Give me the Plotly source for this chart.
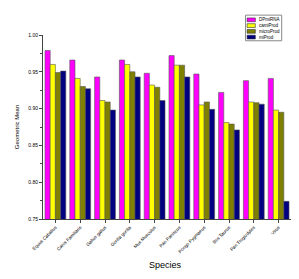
import plotly.graph_objects as go

species = ["Equus Caballus", "Canis Familiaris", "Gallus gallus", "Gorilla gorilla",
           "Mus Musculus", "Pan Paniscus", "Pongo Pygmaeus", "Bos Taurus",
           "Pan Troglodytes", "Virus"]
dpmirna = [0.979, 0.966, 0.943, 0.966, 0.948, 0.972, 0.947, 0.922, 0.938, 0.941]
camiprod = [0.960, 0.941, 0.911, 0.960, 0.932, 0.959, 0.905, 0.881, 0.909, 0.898]
microprod = [0.949, 0.930, 0.909, 0.950, 0.929, 0.959, 0.909, 0.879, 0.908, 0.895]
miprod = [0.951, 0.927, 0.898, 0.943, 0.911, 0.943, 0.899, 0.871, 0.906, 0.774]

series = [("DPmiRNA", dpmirna, "#ff00ff"),
          ("camiProd", camiprod, "#ffff00"),
          ("microProd", microprod, "#808000"),
          ("miProd", miprod, "#000080")]

fig = go.Figure()
for name, vals, col in series:
    fig.add_trace(go.Bar(x=species, y=vals, name=name, showlegend=False,
                         marker=dict(color=col, line=dict(color="#555555", width=0.6))))

# plot area in screen pixels: x 43..283, y 35..211 (page body has 8px margin)
L, T, W, H = 43, 35, 240, 176
def px(x):
    return (x - L) / W
def py(y):
    return (T + H - y) / H

shapes = [dict(type="rect", xref="paper", yref="paper",
               x0=px(239), x1=px(274), y0=py(40.5), y1=py(16),
               line=dict(color="#888888", width=1), fillcolor="white", layer="above")]
annotations = []
rows = [20.5, 26, 31.5, 37]
for (name, vals, col), ry in zip(series, rows):
    shapes.append(dict(type="rect", xref="paper", yref="paper",
                       x0=px(240.5), x1=px(248.5), y0=py(ry + 1.8), y1=py(ry - 1.8),
                       line=dict(color="#333333", width=0.6), fillcolor=col, layer="above"))
    annotations.append(dict(xref="paper", yref="paper", x=px(250), y=py(ry),
                            xanchor="left", yanchor="middle", showarrow=False,
                            text=name, font=dict(size=4.5, color="black")))
annotations.append(dict(xref="paper", yref="paper", x=px(162), y=py(255),
                        xanchor="center", yanchor="middle", showarrow=False,
                        text="Species", font=dict(size=9, color="black")))

font = "Liberation Sans, Arial, sans-serif"
fig.update_layout(
    width=291, height=271,
    margin=dict(l=35, r=8, t=27, b=60),
    paper_bgcolor="white", plot_bgcolor="white",
    barmode="group", bargap=0.16, bargroupgap=0,
    font=dict(family=font, size=5, color="black"),
    showlegend=False,
    shapes=shapes, annotations=annotations,
    xaxis=dict(range=[-0.5, 9.5], showline=True, linecolor="#444444", linewidth=1,
               ticks="outside", ticklen=3, tickcolor="#444444", tickangle=-45,
               tickfont=dict(size=4.6), automargin=False),
    yaxis=dict(range=[0.75, 1.0], showline=True, linecolor="#444444", linewidth=1,
               ticks="outside", ticklen=3, tickcolor="#444444",
               tickvals=[0.75, 0.80, 0.85, 0.90, 0.95, 1.00], tickformat=".2f",
               tickfont=dict(size=5), showgrid=False, zeroline=False, automargin=False,
               minor=dict(ticks="outside", ticklen=2, tickcolor="#444444", dtick=0.025),
               title=dict(text="Geometric Mean", font=dict(size=6), standoff=8)),
)
fig.write_html("out.html")
